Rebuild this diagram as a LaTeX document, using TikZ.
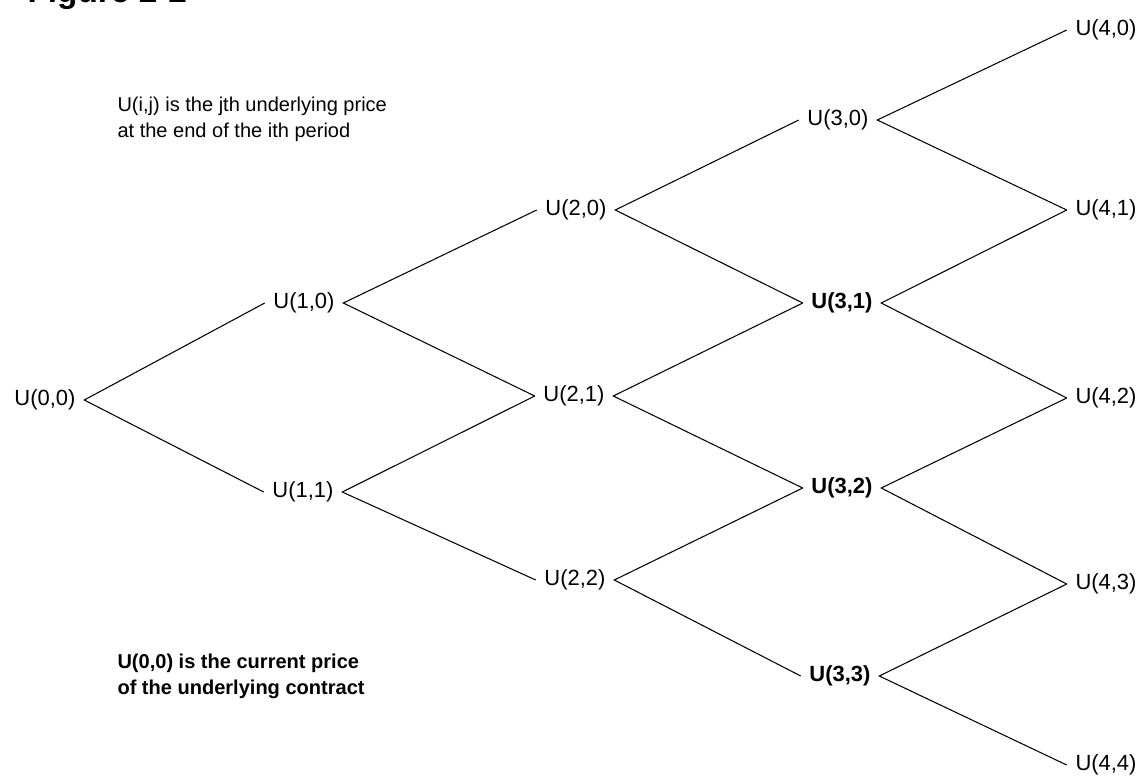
\documentclass[tikz,border=0pt]{standalone}
\usepackage{fontspec}
\setmainfont{Liberation Sans}
\usetikzlibrary{positioning}

\begin{document}
\begin{tikzpicture}[x=0.02cm, y=-0.02cm, line width=0.6pt,
    every node/.style={font=\fontsize{12.5}{14.7}\selectfont},
    price/.style={inner xsep=5pt, inner ysep=2pt, outer sep=0pt},
    pricebf/.style={price, font=\fontsize{12.5}{14.7}\selectfont\bfseries},
    note/.style={anchor=west, align=left, inner sep=0pt, font=\fontsize{11.4}{14.7}\selectfont}]
        \useasboundingbox (0,0) rectangle (1143,778);

        % Heading (cut off by the top edge)
        \node[anchor=base west, inner sep=0pt, font=\fontsize{19}{22}\selectfont\bfseries] (title) at (27,2) {Figure 2-2};

        % Notes
        \node[note] (topnote) at (117,119) {U(i,j) is the jth underlying price\\at the end of the ith period};
        \node[note, font=\fontsize{11.4}{14.7}\selectfont\bfseries] (botnote) at (117,676) {U(0,0) is the current price\\of the underlying contract};

        % Period 0 and 1
        \node[price] (u00) at (45,400) {U(0,0)};
        \node[price] (u10) at (304,303) {U(1,0)};
        \node[price] (u11) at (303,492) {U(1,1)};

        % Period 2
        \node[price] (u20) at (576,210) {U(2,0)};
        \node[price] (u21) at (574,396) {U(2,1)};
        \node[price] (u22) at (575,580) {U(2,2)};

        % Period 3
        \node[price] (u30) at (838,120) {U(3,0)};
        \node[pricebf] (u31) at (842,303) {U(3,1)};
        \node[pricebf] (u32) at (842,488) {U(3,2)};
        \node[pricebf] (u33) at (840,676) {U(3,3)};

        % Period 4
        \node[price] (u40) at (1106,30) {U(4,0)};
        \node[price] (u41) at (1106,210) {U(4,1)};
        \node[price] (u42) at (1106,398) {U(4,2)};
        \node[price] (u43) at (1106,584) {U(4,3)};
        \node[price] (u44) at (1106,765) {U(4,4)};

        % Branches
        \draw (u10.west) -- (u00.east) -- (u11.west);
        \draw (u20.west) -- (u10.east) -- (u21.west);
        \draw (u21.west) -- (u11.east) -- (u22.west);
        \draw (u30.west) -- (u20.east) -- (u31.west);
        \draw (u31.west) -- (u21.east) -- (u32.west);
        \draw (u32.west) -- (u22.east) -- (u33.west);
        \draw (u40.west) -- (u30.east) -- (u41.west);
        \draw (u41.west) -- (u31.east) -- (u42.west);
        \draw (u42.west) -- (u32.east) -- (u43.west);
        \draw (u43.west) -- (u33.east) -- (u44.west);
      \end{tikzpicture}
\end{document}
